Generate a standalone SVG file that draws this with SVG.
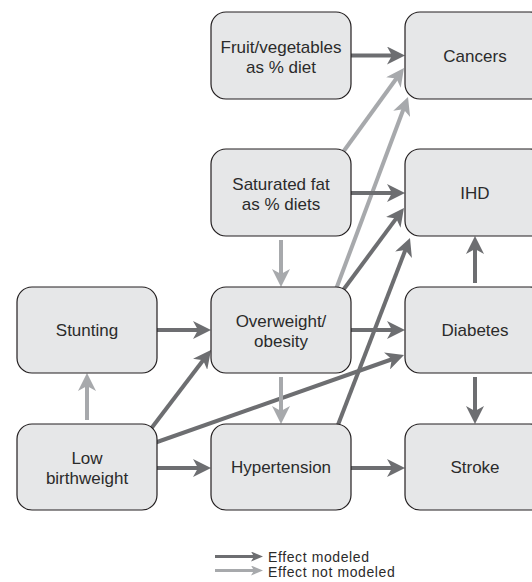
<svg xmlns="http://www.w3.org/2000/svg" width="532" height="582" viewBox="0 0 532 582">
<style>
.node rect{fill:#e6e7e8;stroke:#231f20;stroke-width:1.2}
.node text,.legend text{font-family:"Liberation Sans",Arial,sans-serif;fill:#2b2b2b;text-anchor:middle}
.node text{font-size:17px}
.legend text{font-size:14px;letter-spacing:0.6px;text-anchor:start}
.dk{stroke:#6d6e71;stroke-width:4;fill:none;marker-end:url(#ad)}
.lt{stroke:#a7a9ac;stroke-width:4;fill:none;marker-end:url(#al)}
.ldk{stroke:#6d6e71;stroke-width:3;fill:none;marker-end:url(#sd)}
.llt{stroke:#a7a9ac;stroke-width:3;fill:none;marker-end:url(#sl)}
</style>
<defs>
<marker id="ad" viewBox="-18 -9 18 18" refX="-12" refY="0" markerWidth="18" markerHeight="18" markerUnits="userSpaceOnUse" orient="auto"><path d="M0,0 L-18,-9 L-13,0 L-18,9 Z" fill="#6d6e71"/></marker>
<marker id="al" viewBox="-18 -9 18 18" refX="-12" refY="0" markerWidth="18" markerHeight="18" markerUnits="userSpaceOnUse" orient="auto"><path d="M0,0 L-18,-9 L-13,0 L-18,9 Z" fill="#a7a9ac"/></marker>
<marker id="sd" viewBox="-12 -5 12 10" refX="-8" refY="0" markerWidth="12" markerHeight="10" markerUnits="userSpaceOnUse" orient="auto"><path d="M0,0 L-12,-5 L-9,0 L-12,5 Z" fill="#6d6e71"/></marker>
<marker id="sl" viewBox="-12 -5 12 10" refX="-8" refY="0" markerWidth="12" markerHeight="10" markerUnits="userSpaceOnUse" orient="auto"><path d="M0,0 L-12,-5 L-9,0 L-12,5 Z" fill="#a7a9ac"/></marker>
</defs>
<g id="connectors">
<line class="dk" x1="345" y1="55.5" x2="393" y2="55.5"/>
<line class="lt" x1="338" y1="159" x2="396.95" y2="77.71"/>
<line class="lt" x1="335" y1="292" x2="403.8" y2="108.24"/>
<line class="dk" x1="345" y1="193" x2="393" y2="193"/>
<line class="lt" x1="281" y1="240" x2="281" y2="275"/>
<line class="dk" x1="338" y1="297" x2="396.84" y2="217.63"/>
<line class="dk" x1="336" y1="430" x2="405.67" y2="249.19"/>
<line class="dk" x1="345" y1="330" x2="393" y2="330"/>
<line class="dk" x1="150" y1="444.5" x2="392.68" y2="358.99"/>
<line class="dk" x1="475" y1="283" x2="475" y2="248"/>
<line class="dk" x1="475" y1="377" x2="475" y2="412"/>
<line class="dk" x1="151" y1="330" x2="199" y2="330"/>
<line class="lt" x1="87" y1="420" x2="87" y2="385"/>
<line class="dk" x1="147" y1="434" x2="203.7" y2="359.53"/>
<line class="lt" x1="281" y1="377" x2="281" y2="412"/>
<line class="dk" x1="151" y1="468" x2="199" y2="468"/>
<line class="dk" x1="345" y1="468" x2="393" y2="468"/>
</g>
<g id="n-fruit" class="node"><rect x="211" y="12" width="140" height="87" rx="15"/><text x="281" y="53">Fruit/vegetables</text><text x="281" y="73">as % diet</text></g>
<g id="n-cancers" class="node"><rect x="405" y="12" width="140" height="87" rx="15"/><text x="475" y="62">Cancers</text></g>
<g id="n-satfat" class="node"><rect x="211" y="149" width="140" height="87" rx="15"/><text x="281" y="190">Saturated fat</text><text x="281" y="210">as % diets</text></g>
<g id="n-ihd" class="node"><rect x="405" y="149" width="140" height="87" rx="15"/><text x="475" y="199">IHD</text></g>
<g id="n-stunting" class="node"><rect x="17" y="287" width="140" height="86" rx="15"/><text x="87" y="336">Stunting</text></g>
<g id="n-overweight" class="node"><rect x="211" y="287" width="140" height="86" rx="15"/><text x="281" y="327">Overweight/</text><text x="281" y="347">obesity</text></g>
<g id="n-diabetes" class="node"><rect x="405" y="287" width="140" height="86" rx="15"/><text x="475" y="336">Diabetes</text></g>
<g id="n-lowbw" class="node"><rect x="17" y="424" width="140" height="86" rx="15"/><text x="87" y="464">Low</text><text x="87" y="484">birthweight</text></g>
<g id="n-hypertension" class="node"><rect x="211" y="424" width="140" height="86" rx="15"/><text x="281" y="473">Hypertension</text></g>
<g id="n-stroke" class="node"><rect x="405" y="424" width="140" height="86" rx="15"/><text x="475" y="473">Stroke</text></g>
<g id="legend" class="legend">
<line class="ldk" x1="215" y1="556.5" x2="255" y2="556.5"/>
<line class="llt" x1="215" y1="570.5" x2="255" y2="570.5"/>
<text x="268" y="562">Effect modeled</text>
<text x="268" y="576.5">Effect not modeled</text>
</g>
</svg>
